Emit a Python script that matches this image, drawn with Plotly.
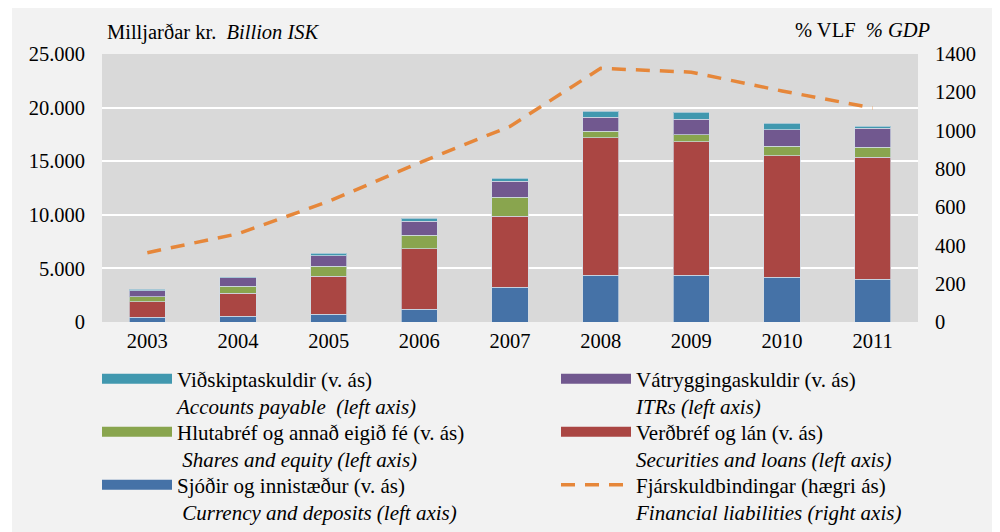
import plotly.graph_objects as go

years = ["2003", "2004", "2005", "2006", "2007", "2008", "2009", "2010", "2011"]
currency_deposits = [440, 560, 746, 1213, 3237, 4384, 4384, 4170, 3983]
securities_loans = [1455, 2117, 3545, 5625, 6651, 12808, 12435, 11343, 11409]
shares_equity = [440, 654, 933, 1278, 1772, 625, 653, 877, 932]
itrs = [590, 802, 962, 1277, 1493, 1306, 1464, 1548, 1745]
accounts_payable = [130, 65, 251, 308, 280, 560, 625, 625, 214]
financial_liabilities_gdp = [362, 461, 630, 832, 1022, 1325, 1305, 1207, 1118]

left_ticks = [0, 5000, 10000, 15000, 20000, 25000]
left_ticktext = ["0", "5.000", "10.000", "15.000", "20.000", "25.000"]
right_ticks = [0, 200, 400, 600, 800, 1000, 1200, 1400]

names = {
    "ap": "Viðskiptaskuldir (v. ás)<br><i>Accounts payable  (left axis)</i>",
    "itr": "Vátryggingaskuldir (v. ás)<br><i>ITRs (left axis)</i>",
    "sh": "Hlutabréf og annað eigið fé (v. ás)<br><i> Shares and equity (left axis)</i>",
    "sec": "Verðbréf og lán (v. ás)<br><i>Securities and loans (left axis)</i>",
    "cur": "Sjóðir og innistæður (v. ás)<br><i> Currency and deposits (left axis)</i>",
    "fl": "Fjárskuldbindingar (hægri ás)<br><i>Financial liabilities (right axis)</i>",
}

colors = {
    "cur": "#4572A7",
    "sec": "#AA4643",
    "sh": "#89A54E",
    "itr": "#71588F",
    "ap": "#4198AF",
    "fl": "#E6873A",
}

FONT = "Liberation Serif"
FS = 20.5
LFS = 21

# figure geometry (page adds an 8px body margin)
W, H = 992, 524
L, T = 94, 46
PW, PH = 816, 268


def px(fx):
    return (fx - L) / PW


def py(fy):
    return (T + PH - fy) / PH


fig = go.Figure()

stack = [
    ("cur", currency_deposits),
    ("sec", securities_loans),
    ("sh", shares_equity),
    ("itr", itrs),
    ("ap", accounts_payable),
]
for key, vals in stack:
    fig.add_trace(go.Bar(
        x=years, y=vals, name=names[key], showlegend=False,
        marker=dict(color=colors[key], line=dict(color="rgba(210,220,230,0.7)", width=1)),
        yaxis="y",
    ))

fig.add_trace(go.Scatter(
    x=years, y=financial_liabilities_gdp, mode="lines", name=names["fl"],
    line=dict(color=colors["fl"], width=3.5, dash="14px,10px"),
    yaxis="y2", showlegend=False,
))

# legend entries, one legend per cell of the 2-column grid
legend_cells = [
    ("ap", "legend", 0, 0),
    ("itr", "legend2", 1, 0),
    ("sh", "legend3", 0, 1),
    ("sec", "legend4", 1, 1),
    ("cur", "legend5", 0, 2),
    ("fl", "legend6", 1, 2),
]
col_x = [102 - 8 - 5, 561 - 8 - 5]
row_top = [358.5 - 8, 411.5 - 8, 464.5 - 8]

legend_layout = {}
for key, lg, c, r in legend_cells:
    if key == "fl":
        line = dict(color=colors[key], width=3.5, dash="14px,10px")
        ax = "y2"
    else:
        line = dict(color=colors[key], width=10)
        ax = "y"
    fig.add_trace(go.Scatter(
        x=[None], y=[None], mode="lines", name=names[key],
        line=line, legend=lg, yaxis=ax,
    ))
    legend_layout[lg] = dict(
        orientation="v", x=px(col_x[c]), xanchor="left", y=py(row_top[r]), yanchor="top",
        bgcolor="rgba(0,0,0,0)", itemwidth=70, valign="top",
        font=dict(size=LFS, family=FONT), itemclick=False, itemdoubleclick=False,
        borderwidth=0,
    )

fig.update_layout(
    width=W, height=H,
    margin=dict(l=L, r=W - L - PW, t=T, b=H - T - PH, autoexpand=False),
    paper_bgcolor="#f2f2f2", plot_bgcolor="#d9d9d9",
    barmode="stack", bargap=0.6,
    font=dict(family=FONT, size=FS, color="#000000"),
    xaxis=dict(type="category", showgrid=False, ticks="", showline=False,
               tickfont=dict(size=FS, family=FONT), ticklabelstandoff=4),
    yaxis=dict(range=[0, 25000], tickvals=left_ticks, ticktext=left_ticktext,
               showgrid=True, gridcolor="#ffffff", gridwidth=2, zeroline=False,
               showline=False, ticks="", ticklabelstandoff=16,
               tickfont=dict(size=FS, family=FONT)),
    yaxis2=dict(range=[0, 1400], tickvals=right_ticks, overlaying="y", side="right",
                showgrid=False, zeroline=False, showline=False, ticks="",
                ticklabelstandoff=16, tickfont=dict(size=FS, family=FONT)),
    showlegend=True,
    annotations=[
        dict(text="Milljarðar kr.  <i>Billion ISK</i>", xref="paper", yref="paper",
             x=px(97), y=py(24), xanchor="left", yanchor="middle",
             showarrow=False, font=dict(size=FS, family=FONT)),
        dict(text="% VLF  <i>% GDP</i>", xref="paper", yref="paper",
             x=px(924), y=py(22), xanchor="right", yanchor="middle",
             showarrow=False, font=dict(size=FS, family=FONT)),
    ],
    shapes=[
        dict(type="rect", xref="paper", yref="paper", layer="below",
             x0=px(-50), x1=px(4), y0=py(600), y1=py(-50),
             fillcolor="#ffffff", line=dict(width=0)),
    ],
    **legend_layout,
)

fig.write_html("out.html")
